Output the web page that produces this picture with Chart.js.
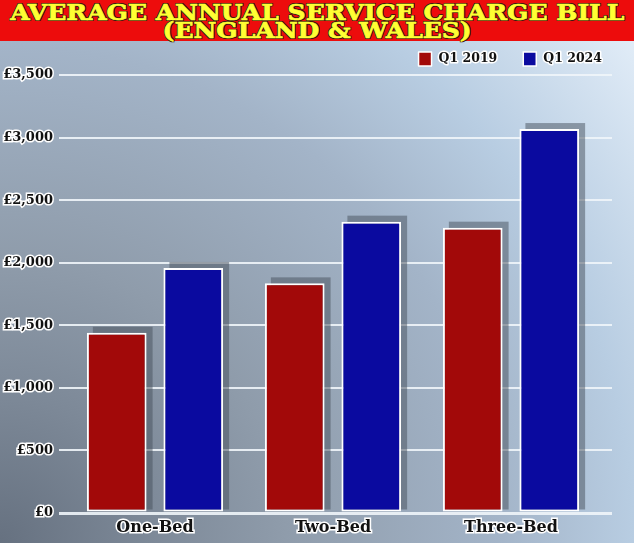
<!DOCTYPE html>
<html>
<head>
<meta charset="utf-8">
<script src="https://cdn.jsdelivr.net/npm/chart.js@4.4.1/dist/chart.umd.min.js"></script>
<style>
  html, body { margin: 0; padding: 0; }
  #wrap { position: relative; width: 634px; height: 543px; overflow: hidden;
    background: radial-gradient(circle farthest-corner at 0px 543px, #667180 0px, #7d8998 150px, #8f9cab 286px, #a3b4c8 498px, #b8cde2 634px, #e6f0fa 830px); }
  #banner { position: absolute; left: 0; top: 0; width: 634px; height: 41px; background: #ed0c0c;
    font-family: "DejaVu Serif", serif; font-weight: bold; color: #ffff33; text-align: center;
    font-size: 23px; line-height: 18px; }
  #banner div { white-space: nowrap; }
  #banner span { display: inline-block; transform-origin: center center;
    -webkit-text-stroke: 0.7px #ffff33;
    text-shadow: -1px -1px 0 #3a1a10, 1px -1px 0 #3a1a10, -1px 1px 0 #3a1a10, 1px 1px 0 #3a1a10, 0 1px 0 #3a1a10, 0 -1px 0 #3a1a10, 1px 0 0 #3a1a10, -1px 0 0 #3a1a10; }
  #l1 { position: absolute; left: 0; width: 634px; top: 3px; }
  #l2 { position: absolute; left: 0; width: 634px; top: 21px; }
  #cv { position: absolute; left: 0; top: 41px; }
</style>
</head>
<body>
<div id="wrap">
  <div id="banner">
    <div id="l1"><span id="t1">AVERAGE ANNUAL SERVICE CHARGE BILL</span></div>
    <div id="l2"><span id="t2">(ENGLAND &amp; WALES)</span></div>
  </div>
  <canvas id="cv" width="634" height="502"></canvas>
</div>
<script>
// ---- data ----
const categories = ["One-Bed", "Two-Bed", "Three-Bed"];
const seriesNames = ["Q1 2019", "Q1 2024"];
const q1_2019 = [1440, 1835, 2280];
const q1_2024 = [1958, 2328, 3068];
const yTicks = [0, 500, 1000, 1500, 2000, 2500, 3000, 3500];

// fit title width
(function () {
  const t1 = document.getElementById('t1');
  const t2 = document.getElementById('t2');
  const w1 = t1.getBoundingClientRect().width;
  const s = 614 / w1;
  t1.style.transform = 'scaleX(' + s + ')';
  t2.style.transform = 'scaleX(' + s + ')';
})();

const RED = '#a20909';
const BLUE = '#0a0a9f';
const GRID = 'rgba(240,245,250,0.9)';
const tickFont = { family: '"DejaVu Serif", serif', weight: 'bold', size: 13 };

const shadowPlugin = {
  id: 'barShadow',
  beforeDatasetsDraw(chart) {
    const ctx = chart.ctx;
    ctx.save();
    ctx.fillStyle = 'rgba(70,80,92,0.5)';
    chart.data.datasets.forEach((ds, i) => {
      const meta = chart.getDatasetMeta(i);
      meta.data.forEach(bar => {
        const p = bar.getProps(['x', 'y', 'base', 'width'], true);
        ctx.fillRect(p.x - p.width / 2 + 6, p.y - 6, p.width, p.base - p.y + 4);
      });
    });
    ctx.restore();
  }
};

const legendPlugin = {
  id: 'customLegend',
  afterDraw(chart) {
    const ctx = chart.ctx;
    ctx.save();
    ctx.font = 'bold 12.5px "DejaVu Serif", serif';
    ctx.textBaseline = 'middle';
    ctx.textAlign = 'left';
    const cy = 18;
    let right = chart.chartArea.right + 2;
    const items = chart.data.datasets.map(d => ({ text: d.label, color: d.backgroundColor }));
    for (let i = items.length - 1; i >= 0; i--) {
      const it = items[i];
      const tw = ctx.measureText(it.text).width;
      const tx = right - tw;
      const bx = tx - 7 - 13;
      ctx.fillStyle = it.color;
      ctx.fillRect(bx, cy - 7, 13, 14);
      ctx.strokeStyle = '#ffffff';
      ctx.lineWidth = 1.5;
      ctx.strokeRect(bx, cy - 7, 13, 14);
      ctx.lineJoin = 'round';
      ctx.lineWidth = 3;
      ctx.strokeText(it.text, tx, cy);
      ctx.fillStyle = '#111';
      ctx.fillText(it.text, tx, cy);
      right = bx - 26;
    }
    ctx.restore();
  }
};

new Chart(document.getElementById('cv'), {
  type: 'bar',
  data: {
    labels: categories,
    datasets: [
      { label: seriesNames[0], data: q1_2019, backgroundColor: RED, borderColor: '#ffffff', borderWidth: 2, borderSkipped: false, yAxisID: 'y' },
      { label: seriesNames[1], data: q1_2024, backgroundColor: BLUE, borderColor: '#ffffff', borderWidth: 2, borderSkipped: false, yAxisID: 'y' }
    ]
  },
  options: {
    responsive: false,
    animation: false,
    layout: { padding: { top: 34, right: 22, left: 0, bottom: 0 } },
    datasets: { bar: { categoryPercentage: 0.86, barPercentage: 0.78 } },
    plugins: { legend: { display: false }, title: { display: false }, tooltip: { enabled: false } },
    scales: {
      x: {
        grid: { display: false, drawTicks: false },
        border: { display: false },
        ticks: { color: '#111', font: { family: '"DejaVu Serif", serif', weight: 'bold', size: 16 }, padding: 5,
                 textStrokeColor: '#ffffff', textStrokeWidth: 3 },
        afterFit(scale) { scale.height = 30; }
      },
      y: {
        min: 0, max: 3500,
        afterBuildTicks(scale) { scale.ticks = yTicks.map(v => ({ value: v })); },
        grid: { color: GRID, tickColor: GRID, lineWidth: c => (c.tick && c.tick.value === 0 ? 3 : 2), tickLength: 7 },
        border: { display: false },
        ticks: { color: '#111', font: tickFont, padding: 6, textStrokeColor: '#ffffff', textStrokeWidth: 3,
                 callback: v => '£' + Number(v).toLocaleString('en-GB') },
        afterFit(scale) { scale.width = 66; }
      },
      y2: {
        position: 'right',
        min: 0, max: 3500,
        afterBuildTicks(scale) { scale.ticks = yTicks.map(v => ({ value: v })); },
        grid: { drawOnChartArea: false, color: GRID, tickColor: GRID, lineWidth: c => (c.tick && c.tick.value === 0 ? 3 : 2), tickLength: 12 },
        border: { display: false },
        ticks: { display: false },
        afterFit(scale) { scale.width = 12; }
      }
    }
  },
  plugins: [shadowPlugin, legendPlugin]
});
</script>
</body>
</html>
